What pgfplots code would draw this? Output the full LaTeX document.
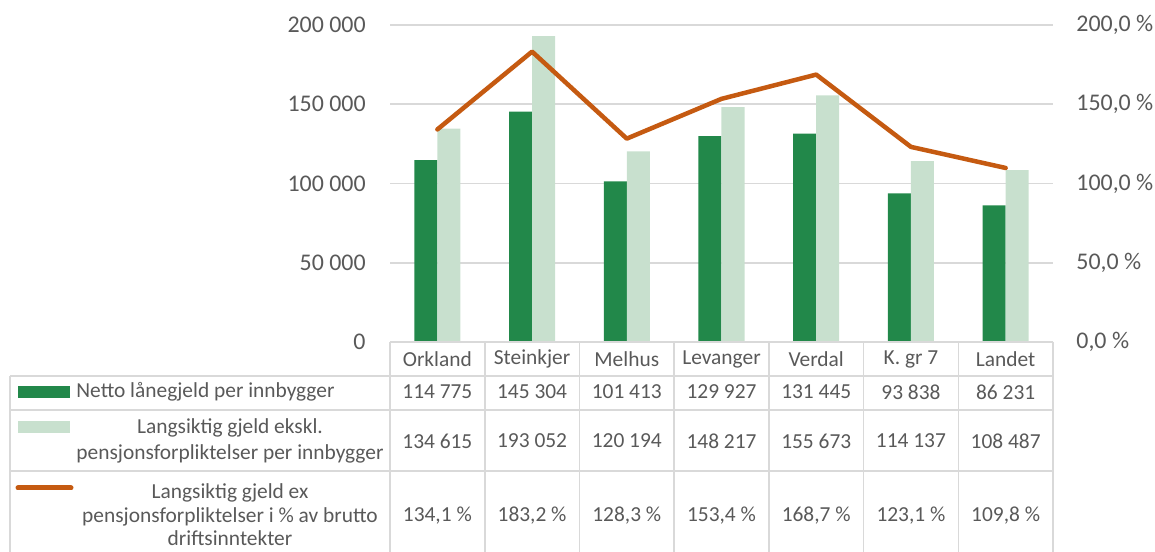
\documentclass[border=0pt]{standalone}
\usepackage{fontspec}
\setmainfont{Carlito}
\usepackage{pgfplots}
\pgfplotsset{compat=1.18}
\definecolor{dkgreen}{HTML}{22884A}
\definecolor{ltgreen}{HTML}{C8E0CE}
\definecolor{orng}{HTML}{C55A11}
\definecolor{txt}{HTML}{595959}
\definecolor{grd}{HTML}{D9D9D9}
\newcommand\tfont{\fontsize{10.7pt}{13.3pt}\selectfont}
\newcommand\tfontb{\fontsize{10.7pt}{11.7pt}\selectfont}
\newcommand\kfont{\fontsize{11.95pt}{14pt}\selectfont}
\begin{document}
\begin{tikzpicture}
\path[use as bounding box] (0,0) rectangle (577.5pt,275.5pt);
\begin{axis}[
  at={(195pt,104.5pt)}, anchor=south west, scale only axis,
  width=331.5pt, height=158.5pt,
  xmin=-0.5, xmax=6.5, ymin=0, ymax=200000,
  ybar=0pt, bar width=11.5pt,
  axis line style={draw=none},
  xtick=\empty,
  ytick={0,50000,100000,150000,200000},
  yticklabels={0,50 000,100 000,150 000,200 000},
  major tick length=0pt,
  ymajorgrids, grid style={grd, line width=0.8pt},
  yticklabel style={anchor=east, inner sep=0pt, xshift=-12pt, font=\kfont, text=txt},
  scaled y ticks=false,
]
\addplot[fill=dkgreen, draw=none] coordinates {(0,114775) (1,145304) (2,101413) (3,129927) (4,131445) (5,93838) (6,86231)};
\addplot[fill=ltgreen, draw=none] coordinates {(0,134615) (1,193052) (2,120194) (3,148217) (4,155673) (5,114137) (6,108487)};
\end{axis}
\begin{axis}[
  at={(195pt,104.5pt)}, anchor=south west, scale only axis,
  width=331.5pt, height=158.5pt,
  xmin=-0.5, xmax=6.5, ymin=0, ymax=200,
  axis y line*=right, hide x axis,
  axis line style={draw=none},
  ytick={0,50,100,150,200},
  yticklabels={{0,0 \%},{50,0 \%},{100,0 \%},{150,0 \%},{200,0 \%}},
  major tick length=0pt,
  yticklabel style={anchor=west, inner sep=0pt, xshift=11.5pt, font=\kfont, text=txt},
]
\addplot[orng, line width=2.25pt, line cap=round, line join=round] coordinates {(0,134.1) (1,183.2) (2,128.3) (3,153.4) (4,168.7) (5,123.1) (6,109.8)};
\end{axis}
\begin{scope}[x=0.5pt, y=-0.5pt, shift={(0pt,275.5pt)}]
\draw[grd, line width=0.8pt] (390,342) -- (1053,342);
\foreach \yy in {376,410,471,561} \draw[grd, line width=0.8pt] (10,\yy) -- (1053,\yy);
\draw[grd, line width=0.8pt] (10,376) -- (10,561);
\foreach \k in {0,...,7} \draw[grd, line width=0.8pt] ({390+94.714*\k},342) -- ({390+94.714*\k},561);
\foreach \k/\n in {0/Orkland,1/Steinkjer,2/Melhus,3/Levanger,4/Verdal,5/K. gr 7,6/Landet}
  \node[font=\tfont, text=txt, inner sep=0pt] at ({437.36+94.714*\k},359) {\n};
\foreach \k/\a/\b/\c in {0/114 775/134 615/{134,1},1/145 304/193 052/{183,2},2/101 413/120 194/{128,3},3/129 927/148 217/{153,4},4/131 445/155 673/{168,7},5/93 838/114 137/{123,1},6/86 231/108 487/{109,8}}{
  \node[font=\tfont, text=txt, inner sep=0pt] at ({437.36+94.714*\k},392) {\a};
  \node[font=\tfont, text=txt, inner sep=0pt] at ({437.36+94.714*\k},441) {\b};
  \node[font=\tfont, text=txt, inner sep=0pt] at ({437.36+94.714*\k},516) {\c{} \%};
}
\fill[dkgreen] (18,386) rectangle (70,398);
\fill[ltgreen] (18,421) rectangle (70,433);
\draw[orng, line width=2.5pt, line cap=round] (18,488) -- (71,488);
\node[font=\tfont, text=txt, anchor=west, inner sep=0pt] at (76,392) {Netto lånegjeld per innbygger};
\node[font=\tfont, text=txt, align=center, inner sep=0pt] at (230,441) {Langsiktig gjeld ekskl.\\pensjonsforpliktelser per innbygger};
\node[font=\tfontb, text=txt, align=center, inner sep=0pt] at (230,515) {Langsiktig gjeld ex\\pensjonsforpliktelser i \% av brutto\\driftsinntekter};
\end{scope}
\end{tikzpicture}
\end{document}
